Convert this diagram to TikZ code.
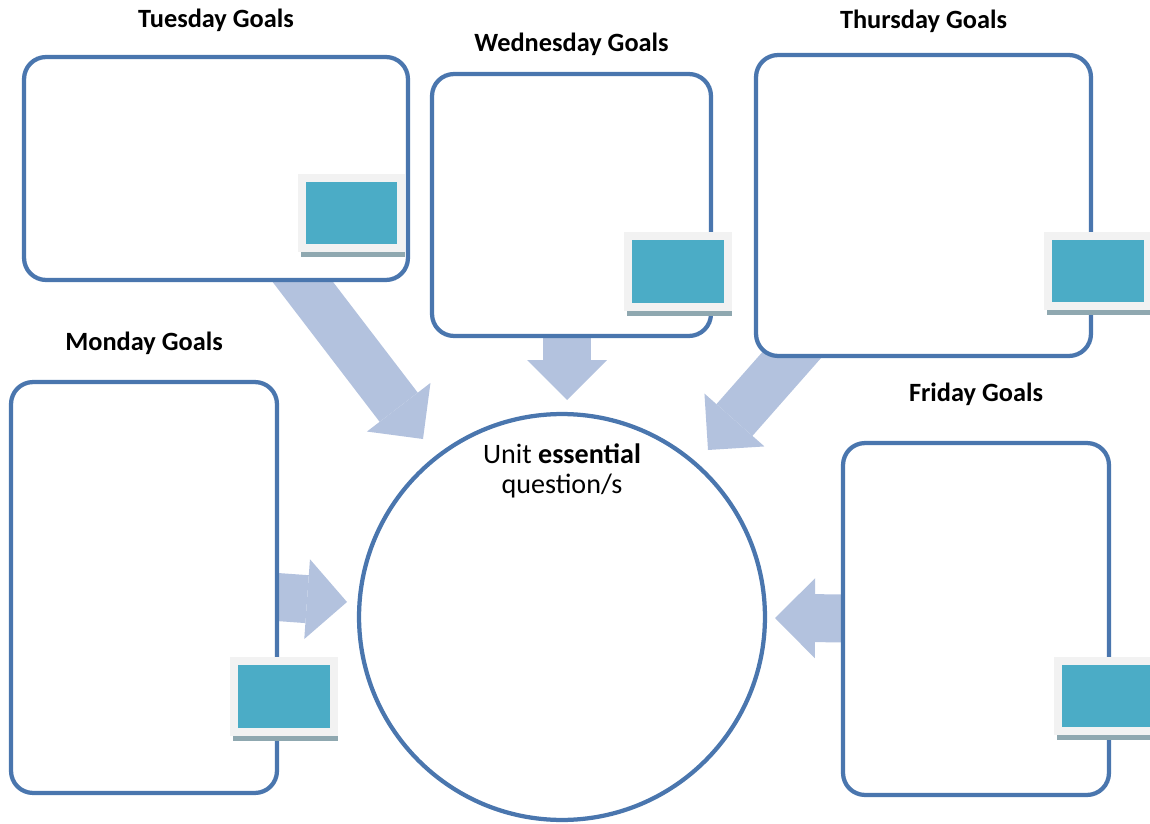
\documentclass[tikz,border=0pt]{standalone}
\usepackage{fontspec}
\setmainfont{Carlito}
\usetikzlibrary{positioning,arrows.meta,backgrounds}
\definecolor{boxblue}{RGB}{74,118,174}
\definecolor{arrowblue}{RGB}{179,194,222}
\definecolor{thumbteal}{RGB}{75,172,198}
\definecolor{thumbgray}{RGB}{242,242,242}
\definecolor{shadowgray}{RGB}{143,168,176}

\begin{document}
\begin{tikzpicture}[
    x=0.02cm, y=-0.02cm,
    goalbox/.style={rectangle, draw=boxblue, line width=0.085cm, rounded corners=0.44cm, fill=white, inner sep=0pt},
    daylabel/.style={font=\fontsize{15}{17}\selectfont\bfseries, inner sep=0pt, text height=11pt, text depth=3.5pt},
    thumb/.style={rectangle, fill=thumbteal, draw=thumbgray, line width=0.16cm, minimum width=2cm, minimum height=1.42cm, inner sep=0pt},
    bigarrow/.style={draw=arrowblue, line width=0.96cm, -{Triangle[width=1.6cm, length=0.8cm, line width=0pt]}}
]
\useasboundingbox (0,0) rectangle (1150,824);

% Goal boxes
\node[goalbox, minimum width=7.68cm, minimum height=4.46cm] (tue) at (216,168.5) {};
\node[goalbox, minimum width=5.58cm, minimum height=5.24cm] (wed) at (571.5,205) {};
\node[goalbox, minimum width=6.70cm, minimum height=6.02cm] (thu) at (923.5,205.5) {};
\node[goalbox, minimum width=5.32cm, minimum height=8.22cm] (mon) at (144,587.5) {};
\node[goalbox, minimum width=5.32cm, minimum height=7.04cm] (fri) at (976,619) {};

% Headings
\node[daylabel, above=0.42cm of tue] (tuelabel) {Tuesday Goals};
\node[daylabel, above=0.28cm of wed] (wedlabel) {Wednesday Goals};
\node[daylabel, above=0.36cm of thu] (thulabel) {Thursday Goals};
\node[daylabel, above=0.46cm of mon] (monlabel) {Monday Goals};
\node[daylabel, above=0.66cm of fri] (frilabel) {Friday Goals};

% Centre question
\node[circle, draw=boxblue, line width=0.085cm, minimum size=8.12cm, inner sep=0pt] (circ) at (562,617) {};
\node[font=\fontsize{16}{17.5}\selectfont, align=center, inner sep=0pt, below=0.62cm of circ.north] (question) {Unit \textbf{essential}\\question/s};

% Arrow tips
\coordinate (tuetip) at (423,439);
\coordinate (wedtip) at (567,400);
\coordinate (thutip) at (708,450);
\coordinate (montip) at (347,602);
\coordinate (fritip) at (775,618);

% Arrows sit behind the boxes
\begin{scope}[on background layer]
\draw[bigarrow] (tue.center) -- (tuetip);
\draw[bigarrow] (wedtip |- wed.center) -- (wedtip);
\draw[bigarrow] (thu.center) -- (thutip);
\draw[bigarrow] (mon.center) -- (montip);
\draw[bigarrow] (fri.center) -- (fritip);
\end{scope}

% Picture placeholders with shadow
\foreach \p/\x/\y in {tuepic/351.5/213, wedpic/678/271.5, thupic/1098/271, monpic/284/696.5, fripic/1108/696} {
  \node[thumb] (\p) at (\x,\y) {};
  \fill[shadowgray] ([xshift=0.06cm]\p.south west) rectangle ([yshift=-0.1cm]\p.south east);
}

\end{tikzpicture}
\end{document}
